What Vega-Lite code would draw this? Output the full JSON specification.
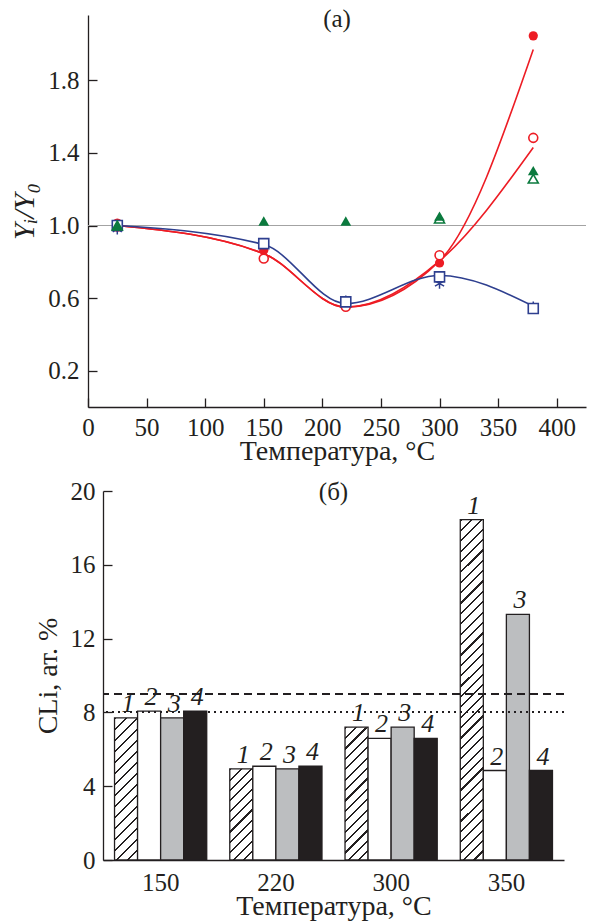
{
  "$schema": "https://vega.github.io/schema/vega-lite/v6.json",
  "background": "white",
  "padding": {"left": 9, "top": 6, "right": 2, "bottom": 4},
  "bounds": "flush",
  "spacing": 84,
  "config": {
    "view": {"stroke": null},
    "font": "Liberation Serif",
    "axis": {"grid": false, "domainColor": "#231f20", "tickColor": "#231f20", "labelColor": "#231f20", "titleColor": "#231f20", "labelFont": "Liberation Serif", "titleFont": "Liberation Serif", "labelFontSize": 25, "titleFontSize": 28, "titleFontWeight": "normal", "domainWidth": 1.3, "tickWidth": 1.3, "tickSize": -9, "labelFlush": false, "labelOverlap": false},
    "title": {"font": "Liberation Serif", "fontSize": 25, "fontWeight": "normal", "color": "#231f20", "anchor": "middle", "frame": "group", "baseline": "middle"}
  },
  "vconcat": [
    {
      "width": 498,
      "height": 392,
      "title": {"text": "(а)", "offset": -16.5},
      "data": {"values": [
        {"kind": "line_red1", "t": 25, "v": 1.0},
        {"kind": "line_red1", "t": 150, "v": 0.845},
        {"kind": "line_red1", "t": 220, "v": 0.55},
        {"kind": "line_red1", "t": 300, "v": 0.805},
        {"kind": "line_red1", "t": 380, "v": 1.97},
        {"kind": "line_red2", "t": 25, "v": 1.0},
        {"kind": "line_red2", "t": 150, "v": 0.845},
        {"kind": "line_red2", "t": 220, "v": 0.55},
        {"kind": "line_red2", "t": 300, "v": 0.805},
        {"kind": "line_red2", "t": 380, "v": 1.43},
        {"kind": "line_blue", "t": 25, "v": 1.0},
        {"kind": "line_blue", "t": 150, "v": 0.895},
        {"kind": "line_blue", "t": 220, "v": 0.57},
        {"kind": "line_blue", "t": 300, "v": 0.725},
        {"kind": "line_blue", "t": 380, "v": 0.555},
        {"kind": "redFilled", "t": 25, "v": 0.99},
        {"kind": "redFilled", "t": 150, "v": 0.864},
        {"kind": "redFilled", "t": 300, "v": 0.794},
        {"kind": "redFilled", "t": 380, "v": 2.045},
        {"kind": "redOpen", "t": 25, "v": 1.01},
        {"kind": "redOpen", "t": 150, "v": 0.818},
        {"kind": "redOpen", "t": 220, "v": 0.552},
        {"kind": "redOpen", "t": 300, "v": 0.836},
        {"kind": "redOpen", "t": 380, "v": 1.483},
        {"kind": "blueStar", "t": 25, "v": 0.98},
        {"kind": "blueStar", "t": 220, "v": 0.585},
        {"kind": "blueStar", "t": 300, "v": 0.68},
        {"kind": "blueStar", "t": 380, "v": 0.553},
        {"kind": "blueSq", "t": 25, "v": 1.0},
        {"kind": "blueSq", "t": 150, "v": 0.9},
        {"kind": "blueSq", "t": 220, "v": 0.579},
        {"kind": "blueSq", "t": 300, "v": 0.717},
        {"kind": "blueSq", "t": 380, "v": 0.543},
        {"kind": "greenOpen", "t": 25, "v": 1.0},
        {"kind": "greenOpen", "t": 300, "v": 1.038},
        {"kind": "greenOpen", "t": 380, "v": 1.258},
        {"kind": "greenFilled", "t": 25, "v": 1.0},
        {"kind": "greenFilled", "t": 150, "v": 1.025},
        {"kind": "greenFilled", "t": 220, "v": 1.025},
        {"kind": "greenFilled", "t": 300, "v": 1.052},
        {"kind": "greenFilled", "t": 380, "v": 1.303}
      ]},
      "encoding": {
        "x": {"field": "t", "type": "quantitative", "scale": {"domain": [0, 425], "nice": false, "zero": false},
              "axis": {"values": [0, 50, 100, 150, 200, 250, 300, 350, 400], "title": "Температура, °C", "labelFont": "Liberation Serif", "titleFont": "Liberation Serif", "labelPadding": 17, "titlePadding": -3}},
        "y": {"field": "v", "type": "quantitative", "scale": {"domain": [0, 2.16], "nice": false},
              "axis": {"values": [0.2, 0.6, 1.0, 1.4, 1.8], "format": ".1f", "title": "Yᵢ/Y₀", "labelFont": "Liberation Serif", "titleFont": "Liberation Serif", "titleFontSize": 30, "titleFontStyle": "italic", "labelPadding": 18, "titlePadding": 8}}
      },
      "layer": [
        {"mark": {"type": "rule", "color": "#a3a3a3", "strokeWidth": 1.2},
         "encoding": {"x": {"datum": 0}, "x2": {"datum": 425}, "y": {"datum": 1}}},
        {"transform": [{"filter": "indexof(datum.kind, 'line') == 0"}],
         "mark": {"type": "line", "interpolate": "monotone", "strokeWidth": 1.6},
         "encoding": {"color": {"field": "kind", "type": "nominal", "scale": {"domain": ["line_red1", "line_red2", "line_blue"], "range": ["#ed1c24", "#ed1c24", "#2e3f8f"]}, "legend": null}}},
        {"transform": [{"filter": "datum.kind == 'redFilled'"}],
         "mark": {"type": "point", "shape": "circle", "filled": true, "color": "#ed1c24", "size": 85, "opacity": 1}},
        {"transform": [{"filter": "datum.kind == 'redOpen'"}],
         "mark": {"type": "point", "shape": "circle", "filled": true, "fill": "white", "stroke": "#ed1c24", "strokeWidth": 1.6, "size": 80, "opacity": 1}},
        {"transform": [{"filter": "datum.kind == 'blueStar'"}],
         "mark": {"type": "point", "shape": "M0,-1L0,1M-0.87,-0.5L0.87,0.5M-0.87,0.5L0.87,-0.5", "filled": false, "stroke": "#2e3f8f", "strokeWidth": 1.5, "size": 110, "opacity": 1}},
        {"transform": [{"filter": "datum.kind == 'blueSq'"}],
         "mark": {"type": "point", "shape": "square", "filled": true, "fill": "white", "stroke": "#2e3f8f", "strokeWidth": 1.6, "size": 100, "opacity": 1}},
        {"transform": [{"filter": "datum.kind == 'greenOpen'"}],
         "mark": {"type": "point", "shape": "triangle-up", "filled": true, "fill": "white", "stroke": "#0b7a3e", "strokeWidth": 1.6, "size": 100, "opacity": 1}},
        {"transform": [{"filter": "datum.kind == 'greenFilled'"}],
         "mark": {"type": "point", "shape": "triangle-up", "filled": true, "color": "#0b7a3e", "size": 115, "opacity": 1}}
      ]
    },
    {
      "bounds": "flush",
      "spacing": 0,
      "hconcat": [
        {
          "width": 14.4,
          "height": 369,
          "data": {"values": []},
          "mark": {"type": "rule"},
          "encoding": {}
        },
        {
          "width": 461,
          "height": 369,
          "title": {"text": "(б)", "offset": -25.5},
          "data": {"values": [
            {"temp": "150", "s": "1", "v": 7.70},
            {"temp": "150", "s": "2", "v": 8.07},
            {"temp": "150", "s": "3", "v": 7.70},
            {"temp": "150", "s": "4", "v": 8.07},
            {"temp": "220", "s": "1", "v": 4.94},
            {"temp": "220", "s": "2", "v": 5.08},
            {"temp": "220", "s": "3", "v": 4.94},
            {"temp": "220", "s": "4", "v": 5.08},
            {"temp": "300", "s": "1", "v": 7.20},
            {"temp": "300", "s": "2", "v": 6.59},
            {"temp": "300", "s": "3", "v": 7.20},
            {"temp": "300", "s": "4", "v": 6.59},
            {"temp": "350", "s": "1", "v": 18.45},
            {"temp": "350", "s": "2", "v": 4.85},
            {"temp": "350", "s": "3", "v": 13.31},
            {"temp": "350", "s": "4", "v": 4.85}
          ]},
          "layer": [
            {"mark": {"type": "bar", "stroke": "#231f20", "strokeWidth": 1.3},
             "encoding": {
               "x": {"field": "temp", "type": "nominal", "scale": {"paddingInner": 0.2, "paddingOuter": 0.1},
                     "axis": {"title": "Температура, °C", "labelFont": "Liberation Serif", "titleFont": "Liberation Serif", "labelAngle": 0, "ticks": false, "labelPadding": 10, "titlePadding": -3}},
               "xOffset": {"field": "s", "type": "nominal", "scale": {"paddingInner": 0, "paddingOuter": 0}},
               "y": {"field": "v", "type": "quantitative", "scale": {"domain": [0, 20], "nice": false},
                     "axis": {"values": [0, 4, 8, 12, 16, 20], "title": "CLi, ат. %", "labelFont": "Liberation Serif", "titleFont": "Liberation Serif", "labelPadding": 17, "titlePadding": 8}},
               "fill": {
                 "condition": [
                   {"test": "datum.s == '1' && datum.temp == '150'", "value": {"gradient": "linear", "x1": 0, "y1": 0, "x2": 0.1833, "y2": 1.1322, "stops": [
                     {"offset": 0, "color": "#231f20"}, {"offset": 0.014, "color": "#231f20"}, {"offset": 0.014, "color": "#fff"}, {"offset": 0.0667, "color": "#fff"},
                     {"offset": 0.0667, "color": "#231f20"}, {"offset": 0.0807, "color": "#231f20"}, {"offset": 0.0807, "color": "#fff"}, {"offset": 0.1333, "color": "#fff"},
                     {"offset": 0.1333, "color": "#231f20"}, {"offset": 0.1473, "color": "#231f20"}, {"offset": 0.1473, "color": "#fff"}, {"offset": 0.2, "color": "#fff"},
                     {"offset": 0.2, "color": "#231f20"}, {"offset": 0.214, "color": "#231f20"}, {"offset": 0.214, "color": "#fff"}, {"offset": 0.2667, "color": "#fff"},
                     {"offset": 0.2667, "color": "#231f20"}, {"offset": 0.2807, "color": "#231f20"}, {"offset": 0.2807, "color": "#fff"}, {"offset": 0.3333, "color": "#fff"},
                     {"offset": 0.3333, "color": "#231f20"}, {"offset": 0.3473, "color": "#231f20"}, {"offset": 0.3473, "color": "#fff"}, {"offset": 0.4, "color": "#fff"},
                     {"offset": 0.4, "color": "#231f20"}, {"offset": 0.414, "color": "#231f20"}, {"offset": 0.414, "color": "#fff"}, {"offset": 0.4667, "color": "#fff"},
                     {"offset": 0.4667, "color": "#231f20"}, {"offset": 0.4807, "color": "#231f20"}, {"offset": 0.4807, "color": "#fff"}, {"offset": 0.5333, "color": "#fff"},
                     {"offset": 0.5333, "color": "#231f20"}, {"offset": 0.5473, "color": "#231f20"}, {"offset": 0.5473, "color": "#fff"}, {"offset": 0.6, "color": "#fff"},
                     {"offset": 0.6, "color": "#231f20"}, {"offset": 0.614, "color": "#231f20"}, {"offset": 0.614, "color": "#fff"}, {"offset": 0.6667, "color": "#fff"},
                     {"offset": 0.6667, "color": "#231f20"}, {"offset": 0.6807, "color": "#231f20"}, {"offset": 0.6807, "color": "#fff"}, {"offset": 0.7333, "color": "#fff"},
                     {"offset": 0.7333, "color": "#231f20"}, {"offset": 0.7473, "color": "#231f20"}, {"offset": 0.7473, "color": "#fff"}, {"offset": 0.8, "color": "#fff"},
                     {"offset": 0.8, "color": "#231f20"}, {"offset": 0.814, "color": "#231f20"}, {"offset": 0.814, "color": "#fff"}, {"offset": 0.8667, "color": "#fff"},
                     {"offset": 0.8667, "color": "#231f20"}, {"offset": 0.8807, "color": "#231f20"}, {"offset": 0.8807, "color": "#fff"}, {"offset": 0.9333, "color": "#fff"},
                     {"offset": 0.9333, "color": "#231f20"}, {"offset": 0.9473, "color": "#231f20"}, {"offset": 0.9473, "color": "#fff"}, {"offset": 1, "color": "#fff"}
                   ]}},
                   {"test": "datum.s == '1' && datum.temp == '220'", "value": {"gradient": "linear", "x1": 0, "y1": 0, "x2": 0.2973, "y2": 1.1775, "stops": [
                     {"offset": 0, "color": "#231f20"}, {"offset": 0.019, "color": "#231f20"}, {"offset": 0.019, "color": "#fff"}, {"offset": 0.0909, "color": "#fff"},
                     {"offset": 0.0909, "color": "#231f20"}, {"offset": 0.1099, "color": "#231f20"}, {"offset": 0.1099, "color": "#fff"}, {"offset": 0.1818, "color": "#fff"},
                     {"offset": 0.1818, "color": "#231f20"}, {"offset": 0.2008, "color": "#231f20"}, {"offset": 0.2008, "color": "#fff"}, {"offset": 0.2727, "color": "#fff"},
                     {"offset": 0.2727, "color": "#231f20"}, {"offset": 0.2917, "color": "#231f20"}, {"offset": 0.2917, "color": "#fff"}, {"offset": 0.3636, "color": "#fff"},
                     {"offset": 0.3636, "color": "#231f20"}, {"offset": 0.3826, "color": "#231f20"}, {"offset": 0.3826, "color": "#fff"}, {"offset": 0.4545, "color": "#fff"},
                     {"offset": 0.4545, "color": "#231f20"}, {"offset": 0.4735, "color": "#231f20"}, {"offset": 0.4735, "color": "#fff"}, {"offset": 0.5455, "color": "#fff"},
                     {"offset": 0.5455, "color": "#231f20"}, {"offset": 0.5645, "color": "#231f20"}, {"offset": 0.5645, "color": "#fff"}, {"offset": 0.6364, "color": "#fff"},
                     {"offset": 0.6364, "color": "#231f20"}, {"offset": 0.6554, "color": "#231f20"}, {"offset": 0.6554, "color": "#fff"}, {"offset": 0.7273, "color": "#fff"},
                     {"offset": 0.7273, "color": "#231f20"}, {"offset": 0.7463, "color": "#231f20"}, {"offset": 0.7463, "color": "#fff"}, {"offset": 0.8182, "color": "#fff"},
                     {"offset": 0.8182, "color": "#231f20"}, {"offset": 0.8372, "color": "#231f20"}, {"offset": 0.8372, "color": "#fff"}, {"offset": 0.9091, "color": "#fff"},
                     {"offset": 0.9091, "color": "#231f20"}, {"offset": 0.9281, "color": "#231f20"}, {"offset": 0.9281, "color": "#fff"}, {"offset": 1, "color": "#fff"}
                   ]}},
                   {"test": "datum.s == '1' && datum.temp == '300'", "value": {"gradient": "linear", "x1": 0, "y1": 0, "x2": 0.1973, "y2": 1.139, "stops": [
                     {"offset": 0, "color": "#231f20"}, {"offset": 0.014, "color": "#231f20"}, {"offset": 0.014, "color": "#fff"}, {"offset": 0.0667, "color": "#fff"},
                     {"offset": 0.0667, "color": "#231f20"}, {"offset": 0.0807, "color": "#231f20"}, {"offset": 0.0807, "color": "#fff"}, {"offset": 0.1333, "color": "#fff"},
                     {"offset": 0.1333, "color": "#231f20"}, {"offset": 0.1473, "color": "#231f20"}, {"offset": 0.1473, "color": "#fff"}, {"offset": 0.2, "color": "#fff"},
                     {"offset": 0.2, "color": "#231f20"}, {"offset": 0.214, "color": "#231f20"}, {"offset": 0.214, "color": "#fff"}, {"offset": 0.2667, "color": "#fff"},
                     {"offset": 0.2667, "color": "#231f20"}, {"offset": 0.2807, "color": "#231f20"}, {"offset": 0.2807, "color": "#fff"}, {"offset": 0.3333, "color": "#fff"},
                     {"offset": 0.3333, "color": "#231f20"}, {"offset": 0.3473, "color": "#231f20"}, {"offset": 0.3473, "color": "#fff"}, {"offset": 0.4, "color": "#fff"},
                     {"offset": 0.4, "color": "#231f20"}, {"offset": 0.414, "color": "#231f20"}, {"offset": 0.414, "color": "#fff"}, {"offset": 0.4667, "color": "#fff"},
                     {"offset": 0.4667, "color": "#231f20"}, {"offset": 0.4807, "color": "#231f20"}, {"offset": 0.4807, "color": "#fff"}, {"offset": 0.5333, "color": "#fff"},
                     {"offset": 0.5333, "color": "#231f20"}, {"offset": 0.5473, "color": "#231f20"}, {"offset": 0.5473, "color": "#fff"}, {"offset": 0.6, "color": "#fff"},
                     {"offset": 0.6, "color": "#231f20"}, {"offset": 0.614, "color": "#231f20"}, {"offset": 0.614, "color": "#fff"}, {"offset": 0.6667, "color": "#fff"},
                     {"offset": 0.6667, "color": "#231f20"}, {"offset": 0.6807, "color": "#231f20"}, {"offset": 0.6807, "color": "#fff"}, {"offset": 0.7333, "color": "#fff"},
                     {"offset": 0.7333, "color": "#231f20"}, {"offset": 0.7473, "color": "#231f20"}, {"offset": 0.7473, "color": "#fff"}, {"offset": 0.8, "color": "#fff"},
                     {"offset": 0.8, "color": "#231f20"}, {"offset": 0.814, "color": "#231f20"}, {"offset": 0.814, "color": "#fff"}, {"offset": 0.8667, "color": "#fff"},
                     {"offset": 0.8667, "color": "#231f20"}, {"offset": 0.8807, "color": "#231f20"}, {"offset": 0.8807, "color": "#fff"}, {"offset": 0.9333, "color": "#fff"},
                     {"offset": 0.9333, "color": "#231f20"}, {"offset": 0.9473, "color": "#231f20"}, {"offset": 0.9473, "color": "#fff"}, {"offset": 1, "color": "#fff"}
                   ]}},
                   {"test": "datum.s == '1' && datum.temp == '350'", "value": {"gradient": "linear", "x1": 0, "y1": 0, "x2": 0.0718, "y2": 1.0627, "stops": [
                     {"offset": 0, "color": "#231f20"}, {"offset": 0.006, "color": "#231f20"}, {"offset": 0.006, "color": "#fff"}, {"offset": 0.0286, "color": "#fff"},
                     {"offset": 0.0286, "color": "#231f20"}, {"offset": 0.0346, "color": "#231f20"}, {"offset": 0.0346, "color": "#fff"}, {"offset": 0.0571, "color": "#fff"},
                     {"offset": 0.0571, "color": "#231f20"}, {"offset": 0.0631, "color": "#231f20"}, {"offset": 0.0631, "color": "#fff"}, {"offset": 0.0857, "color": "#fff"},
                     {"offset": 0.0857, "color": "#231f20"}, {"offset": 0.0917, "color": "#231f20"}, {"offset": 0.0917, "color": "#fff"}, {"offset": 0.1143, "color": "#fff"},
                     {"offset": 0.1143, "color": "#231f20"}, {"offset": 0.1203, "color": "#231f20"}, {"offset": 0.1203, "color": "#fff"}, {"offset": 0.1429, "color": "#fff"},
                     {"offset": 0.1429, "color": "#231f20"}, {"offset": 0.1489, "color": "#231f20"}, {"offset": 0.1489, "color": "#fff"}, {"offset": 0.1714, "color": "#fff"},
                     {"offset": 0.1714, "color": "#231f20"}, {"offset": 0.1774, "color": "#231f20"}, {"offset": 0.1774, "color": "#fff"}, {"offset": 0.2, "color": "#fff"},
                     {"offset": 0.2, "color": "#231f20"}, {"offset": 0.206, "color": "#231f20"}, {"offset": 0.206, "color": "#fff"}, {"offset": 0.2286, "color": "#fff"},
                     {"offset": 0.2286, "color": "#231f20"}, {"offset": 0.2346, "color": "#231f20"}, {"offset": 0.2346, "color": "#fff"}, {"offset": 0.2571, "color": "#fff"},
                     {"offset": 0.2571, "color": "#231f20"}, {"offset": 0.2631, "color": "#231f20"}, {"offset": 0.2631, "color": "#fff"}, {"offset": 0.2857, "color": "#fff"},
                     {"offset": 0.2857, "color": "#231f20"}, {"offset": 0.2917, "color": "#231f20"}, {"offset": 0.2917, "color": "#fff"}, {"offset": 0.3143, "color": "#fff"},
                     {"offset": 0.3143, "color": "#231f20"}, {"offset": 0.3203, "color": "#231f20"}, {"offset": 0.3203, "color": "#fff"}, {"offset": 0.3429, "color": "#fff"},
                     {"offset": 0.3429, "color": "#231f20"}, {"offset": 0.3489, "color": "#231f20"}, {"offset": 0.3489, "color": "#fff"}, {"offset": 0.3714, "color": "#fff"},
                     {"offset": 0.3714, "color": "#231f20"}, {"offset": 0.3774, "color": "#231f20"}, {"offset": 0.3774, "color": "#fff"}, {"offset": 0.4, "color": "#fff"},
                     {"offset": 0.4, "color": "#231f20"}, {"offset": 0.406, "color": "#231f20"}, {"offset": 0.406, "color": "#fff"}, {"offset": 0.4286, "color": "#fff"},
                     {"offset": 0.4286, "color": "#231f20"}, {"offset": 0.4346, "color": "#231f20"}, {"offset": 0.4346, "color": "#fff"}, {"offset": 0.4571, "color": "#fff"},
                     {"offset": 0.4571, "color": "#231f20"}, {"offset": 0.4631, "color": "#231f20"}, {"offset": 0.4631, "color": "#fff"}, {"offset": 0.4857, "color": "#fff"},
                     {"offset": 0.4857, "color": "#231f20"}, {"offset": 0.4917, "color": "#231f20"}, {"offset": 0.4917, "color": "#fff"}, {"offset": 0.5143, "color": "#fff"},
                     {"offset": 0.5143, "color": "#231f20"}, {"offset": 0.5203, "color": "#231f20"}, {"offset": 0.5203, "color": "#fff"}, {"offset": 0.5429, "color": "#fff"},
                     {"offset": 0.5429, "color": "#231f20"}, {"offset": 0.5489, "color": "#231f20"}, {"offset": 0.5489, "color": "#fff"}, {"offset": 0.5714, "color": "#fff"},
                     {"offset": 0.5714, "color": "#231f20"}, {"offset": 0.5774, "color": "#231f20"}, {"offset": 0.5774, "color": "#fff"}, {"offset": 0.6, "color": "#fff"},
                     {"offset": 0.6, "color": "#231f20"}, {"offset": 0.606, "color": "#231f20"}, {"offset": 0.606, "color": "#fff"}, {"offset": 0.6286, "color": "#fff"},
                     {"offset": 0.6286, "color": "#231f20"}, {"offset": 0.6346, "color": "#231f20"}, {"offset": 0.6346, "color": "#fff"}, {"offset": 0.6571, "color": "#fff"},
                     {"offset": 0.6571, "color": "#231f20"}, {"offset": 0.6631, "color": "#231f20"}, {"offset": 0.6631, "color": "#fff"}, {"offset": 0.6857, "color": "#fff"},
                     {"offset": 0.6857, "color": "#231f20"}, {"offset": 0.6917, "color": "#231f20"}, {"offset": 0.6917, "color": "#fff"}, {"offset": 0.7143, "color": "#fff"},
                     {"offset": 0.7143, "color": "#231f20"}, {"offset": 0.7203, "color": "#231f20"}, {"offset": 0.7203, "color": "#fff"}, {"offset": 0.7429, "color": "#fff"},
                     {"offset": 0.7429, "color": "#231f20"}, {"offset": 0.7489, "color": "#231f20"}, {"offset": 0.7489, "color": "#fff"}, {"offset": 0.7714, "color": "#fff"},
                     {"offset": 0.7714, "color": "#231f20"}, {"offset": 0.7774, "color": "#231f20"}, {"offset": 0.7774, "color": "#fff"}, {"offset": 0.8, "color": "#fff"},
                     {"offset": 0.8, "color": "#231f20"}, {"offset": 0.806, "color": "#231f20"}, {"offset": 0.806, "color": "#fff"}, {"offset": 0.8286, "color": "#fff"},
                     {"offset": 0.8286, "color": "#231f20"}, {"offset": 0.8346, "color": "#231f20"}, {"offset": 0.8346, "color": "#fff"}, {"offset": 0.8571, "color": "#fff"},
                     {"offset": 0.8571, "color": "#231f20"}, {"offset": 0.8631, "color": "#231f20"}, {"offset": 0.8631, "color": "#fff"}, {"offset": 0.8857, "color": "#fff"},
                     {"offset": 0.8857, "color": "#231f20"}, {"offset": 0.8917, "color": "#231f20"}, {"offset": 0.8917, "color": "#fff"}, {"offset": 0.9143, "color": "#fff"},
                     {"offset": 0.9143, "color": "#231f20"}, {"offset": 0.9203, "color": "#231f20"}, {"offset": 0.9203, "color": "#fff"}, {"offset": 0.9429, "color": "#fff"},
                     {"offset": 0.9429, "color": "#231f20"}, {"offset": 0.9489, "color": "#231f20"}, {"offset": 0.9489, "color": "#fff"}, {"offset": 0.9714, "color": "#fff"},
                     {"offset": 0.9714, "color": "#231f20"}, {"offset": 0.9774, "color": "#231f20"}, {"offset": 0.9774, "color": "#fff"}, {"offset": 1, "color": "#fff"}
                   ]}}
                 ],
                 "field": "s", "type": "nominal", "scale": {"domain": ["1", "2", "3", "4"], "range": ["#ffffff", "#ffffff", "#bcbec0", "#231f20"]}, "legend": null
               }
             }},
            {"mark": {"type": "text", "font": "Liberation Serif", "fontSize": 26, "fontStyle": "italic", "baseline": "alphabetic", "dy": -6, "dx": 2, "color": "#231f20"},
             "encoding": {
               "x": {"field": "temp", "type": "nominal"},
               "xOffset": {"field": "s", "type": "nominal"},
               "y": {"field": "v", "type": "quantitative"},
               "text": {"field": "s"}
             }},
            {"mark": {"type": "rule", "color": "#231f20", "strokeWidth": 1.3, "strokeDash": [8, 5]},
             "encoding": {"y": {"datum": 9, "type": "quantitative"}}},
            {"mark": {"type": "rule", "color": "#231f20", "strokeWidth": 1.3, "strokeDash": [2, 4]},
             "encoding": {"y": {"datum": 8, "type": "quantitative"}}}
          ]
        }
      ]
    }
  ]
}
